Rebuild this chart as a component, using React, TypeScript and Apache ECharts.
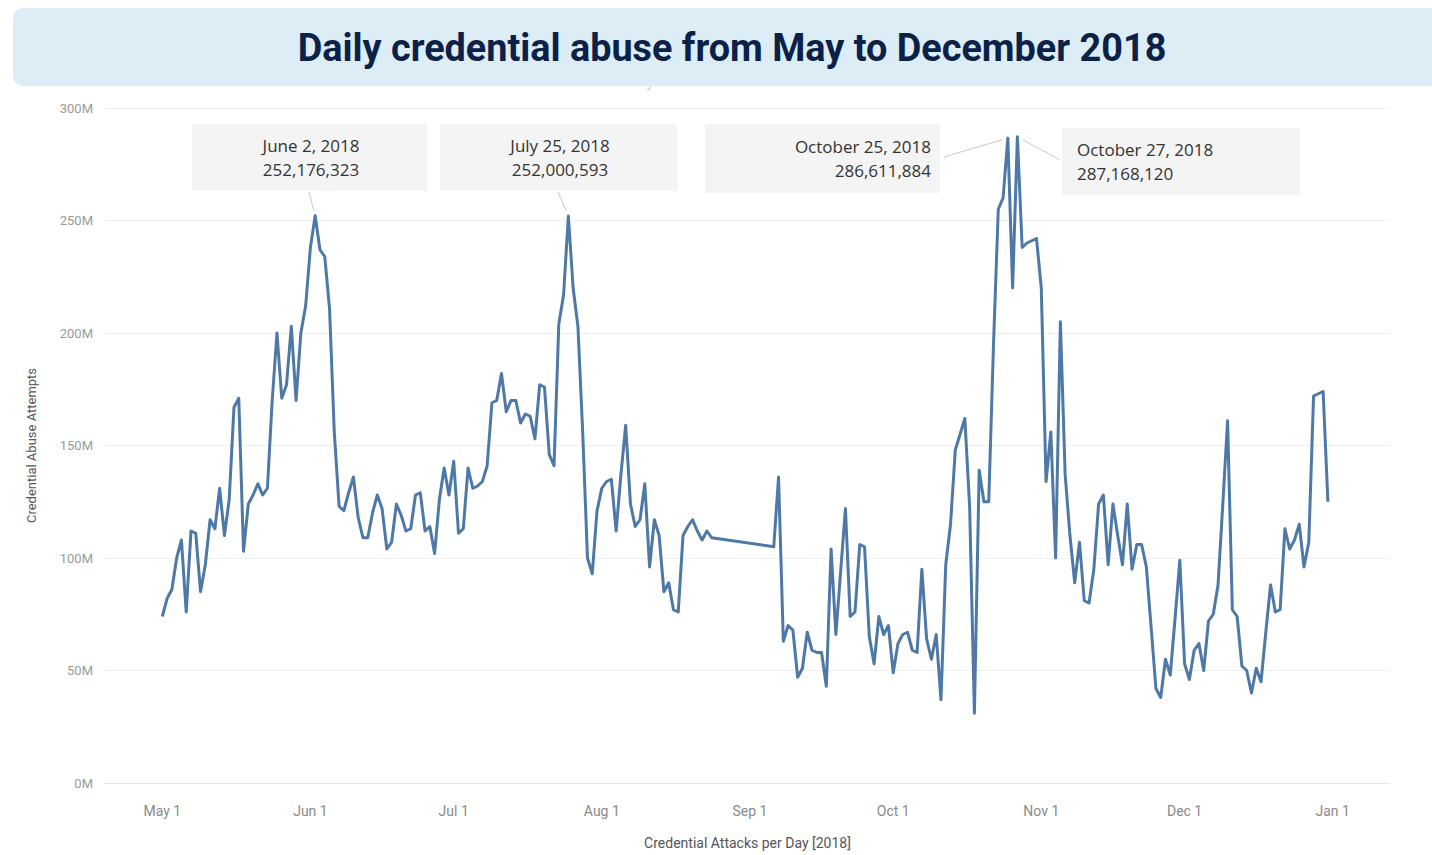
import React, { useEffect, useRef } from "react";
import * as echarts from "echarts";

// Daily credential abuse attempts, in millions (null = no data that day)
const mayValues = [74, 82, 86, 100, 108, 76, 112, 111, 85, 97, 117, 113, 131, 110, 126, 167, 171, 103, 124, 128, 133, 128, 131, 170, 200, 171, 177, 203, 170, 200, 212];
const junValues = [238, 252.176323, 237, 234, 211, 156, 123, 121, 129, 136, 118, 109, 109, 120, 128, 122, 104, 107, 124, 119, 112, 113, 128, 129, 112, 114, 102, 126, 140, 128];
const julValues = [143, 111, 113, 140, 131, 132, 134, 141, 169, 170, 182, 165, 170, 170, 160, 164, 163, 153, 177, 176, 146, 141, 204, 217, 252.000593, 220, 203, 156, 100, 93, 121];
const augValues = [131, 134, 135, 112, 137, 159, 124, 114, 117, 133, 96, 117, 110, 85, 89, 77, 76, 110, 114, 117, 112, 108, 112, 109, null, null, null, null, null, null, null];
const sepValues = [null, null, null, null, null, 105, 136, 63, 70, 68, 47, 51, 67, 59, 58, 58, 43, 104, 66, 94, 122, 74, 76, 106, 105, 65, 53, 74, 66, 70];
const octValues = [49, 62, 66, 67, 59, 58, 95, 64, 55, 66, 37, 97, 115, 148, 155, 162, 123, 31, 139, 125, 125, 195, 255, 260, 286.611884, 220, 287.16812, 238, 240, 241, 242];
const novValues = [220, 134, 156, 100, 205, 137, 110, 89, 107, 81, 80, 95, 124, 128, 97, 124, 110, 97, 124, 95, 106, 106, 96, 69, 42, 38, 55, 48, 73, 99];
const decValues = [53, 46, 59, 62, 50, 72, 75, 88, 124, 161, 77, 74, 52, 50, 40, 51, 45, 67, 88, 76, 77, 113, 104, 108, 115, 96, 107, 172, 173, 174, 125];

const monthSeries = [
  { month: 4, values: mayValues },
  { month: 5, values: junValues },
  { month: 6, values: julValues },
  { month: 7, values: augValues },
  { month: 8, values: sepValues },
  { month: 9, values: octValues },
  { month: 10, values: novValues },
  { month: 11, values: decValues },
];

const yTicks = [0, 50, 100, 150, 200, 250, 300];
const MONTH_NAMES = ["Jan", "Feb", "Mar", "Apr", "May", "Jun", "Jul", "Aug", "Sep", "Oct", "Nov", "Dec"];

const annotationDates = [
  [2018, 5, 2],
  [2018, 6, 25],
  [2018, 9, 25],
  [2018, 9, 27],
];
const annotationValues = [252.176323, 252.000593, 286.611884, 287.16812];
const annotationTitles = ["June 2, 2018", "July 25, 2018", "October 25, 2018", "October 27, 2018"];
const annotationAmounts = ["252,176,323", "252,000,593", "286,611,884", "287,168,120"];

// box layout: [x, y, w, h, textAlign, textX, anchorX, anchorY]
const boxLayout: any[] = [
  [192, 124, 235, 67, "center", 311, 309, 192],
  [440, 124, 237, 67, "center", 560, 558, 192],
  [705, 124, 235, 69, "right", 931, 944, 157],
  [1062, 128, 238, 67, "left", 1077, 1060, 160],
];

export default function App() {
  const ref = useRef<HTMLDivElement>(null);

  useEffect(() => {
    document.body.style.margin = "0";
    const chart = echarts.init(ref.current!, null, { renderer: "svg" });

    const data: any[] = [];
    monthSeries.forEach(({ month, values }) => {
      values.forEach((v, i) => {
        if (v !== null) data.push([new Date(2018, month, i + 1).getTime(), v]);
      });
    });

    const staticGraphics: any[] = [
      {
        id: "subtitle",
        type: "text",
        x: 698,
        y: 80,
        z: 1,
        style: {
          text: "May - December 2018",
          fill: "#c8c8c8",
          font: '14px "Open Sans", sans-serif',
          textAlign: "center",
          textVerticalAlign: "middle",
        },
      },
      {
        id: "titleBox",
        type: "rect",
        z: 2,
        shape: { x: 13, y: 8, width: 1440, height: 78, r: 10 },
        style: { fill: "#dcedf5" },
      },
      {
        id: "titleText",
        type: "text",
        x: 732,
        y: 47,
        z: 3,
        scaleX: 0.97,
        style: {
          text: "Daily credential abuse from May to December 2018",
          fill: "#0b2148",
          font: 'bold 39px Roboto, sans-serif',
          textAlign: "center",
          textVerticalAlign: "middle",
        },
      },
    ];

    boxLayout.forEach((b, i) => {
      staticGraphics.push({
        id: "box" + i,
        type: "rect",
        z: 1,
        shape: { x: b[0], y: b[1], width: b[2], height: b[3] },
        style: { fill: "#f4f4f4" },
      });
      staticGraphics.push({
        id: "boxText" + i,
        type: "text",
        z: 2,
        x: b[5],
        y: b[1] + b[3] / 2,
        style: {
          text: annotationTitles[i] + "\n" + annotationAmounts[i],
          fill: "#333",
          font: '17px "Open Sans", sans-serif',
          lineHeight: 24,
          textAlign: b[4],
          textVerticalAlign: "middle",
        },
      });
    });

    const option: any = {
      animation: false,
      backgroundColor: "#ffffff",
      grid: { left: 105, right: 42, top: 108, bottom: 61 },
      xAxis: {
        type: "time",
        min: new Date(2018, 3, 19).getTime(),
        max: new Date(2019, 0, 13).getTime(),
        splitNumber: 9,
        minInterval: 28 * 86400000,
        maxInterval: 31 * 86400000,
        name: "Credential Attacks per Day [2018]",
        nameLocation: "middle",
        nameGap: 53,
        nameTextStyle: { color: "#555", fontSize: 14, fontFamily: "'Liberation Sans Narrow', Roboto, sans-serif" },
        axisLine: { show: true, lineStyle: { color: "#e6e6e6", width: 1 } },
        axisTick: { show: false },
        splitLine: { show: false },
        axisLabel: {
          color: "#8a8a8a",
          fontSize: 14,
          fontFamily: "'Liberation Sans Narrow', Roboto, sans-serif",
          margin: 21,
          showMinLabel: false,
          showMaxLabel: false,
          hideOverlap: false,
          formatter: (value: number) => {
            const dt = new Date(value);
            return MONTH_NAMES[dt.getMonth()] + " " + dt.getDate();
          },
        },
      },
      yAxis: {
        type: "value",
        min: yTicks[0],
        max: yTicks[yTicks.length - 1],
        interval: 50,
        name: "Credential Abuse Attempts",
        nameLocation: "middle",
        nameGap: 67,
        nameTextStyle: { color: "#555", fontSize: 13, fontFamily: "'Liberation Sans Narrow', Roboto, sans-serif" },
        axisLine: { show: false },
        axisTick: { show: false },
        splitLine: { show: true, lineStyle: { color: "#efefef", width: 1 } },
        axisLabel: {
          color: "#9a9a9a",
          fontSize: 13,
          margin: 12,
          fontFamily: "'Liberation Sans Narrow', Roboto, sans-serif",
          formatter: (v: number) => v + "M",
        },
      },
      series: [
        {
          type: "line",
          data,
          showSymbol: false,
          connectNulls: true,
          silent: true,
          lineStyle: { color: "#4e79a7", width: 3, join: "round" },
          itemStyle: { color: "#4e79a7" },
          emphasis: { disabled: true },
          z: 5,
        },
      ],
      graphic: { elements: staticGraphics },
    };

    chart.setOption(option);

    const leaders: any[] = annotationDates.map((d, i) => {
      const p = chart.convertToPixel({ xAxisIndex: 0, yAxisIndex: 0 }, [
        new Date(d[0], d[1], d[2]).getTime(),
        annotationValues[i],
      ]) as number[];
      const ax = boxLayout[i][6];
      const ay = boxLayout[i][7];
      const dx = ax - p[0];
      const dy = ay - p[1];
      const len = Math.sqrt(dx * dx + dy * dy) || 1;
      const ex = p[0] + (dx / len) * 6;
      const ey = p[1] + (dy / len) * 6;
      return {
        id: "leader" + i,
        type: "line",
        z: 4,
        shape: { x1: ax, y1: ay, x2: ex, y2: ey },
        style: { stroke: "#c9c9c9", lineWidth: 1 },
      };
    });

    chart.setOption({ graphic: { elements: staticGraphics.concat(leaders) } });

    return () => chart.dispose();
  }, []);

  return <div ref={ref} style={{ width: 1432, height: 855 }} />;
}
